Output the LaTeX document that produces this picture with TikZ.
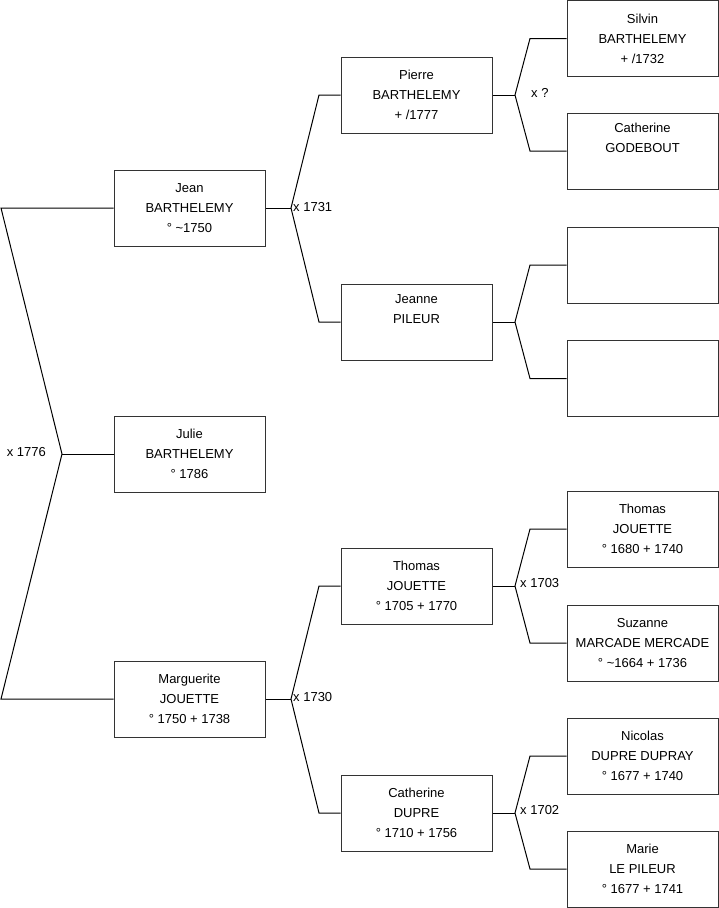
\documentclass[tikz,border=0pt]{standalone}
\usepackage{fontspec}
\setmainfont{Liberation Sans}
\begin{document}
\begin{tikzpicture}[x=1pt,y=-1pt,
  person/.style={draw=black!80, line width=1pt, minimum width=151pt, minimum height=76pt, inner sep=0pt, align=center, font=\fontsize{13}{20}\selectfont, fill=white},
  link/.style={draw=black, line width=1pt},
  mlabel/.style={inner sep=0pt, font=\fontsize{13}{15}\selectfont}]
\useasboundingbox (0,0) rectangle (719,908);
% column 1
\node[person] (jean) at (189.5,208) {Jean\\BARTHELEMY\\° \textasciitilde1750};
\node[person] (julie) at (189.5,454) {Julie\\BARTHELEMY\\° 1786};
\node[person] (marg) at (189.5,699) {Marguerite\\JOUETTE\\° 1750 + 1738};
% column 2
\node[person] (pierre) at (416.5,95) {Pierre\\BARTHELEMY\\+ /1777};
\node[person] (jeanne) at (416.5,322) {Jeanne\\PILEUR\\\strut};
\node[person] (thomas) at (416.5,586) {Thomas\\JOUETTE\\° 1705 + 1770};
\node[person] (cath) at (416.5,813) {Catherine\\DUPRE\\° 1710 + 1756};
% column 3
\node[person] (silvin) at (642.5,38.5) {Silvin\\BARTHELEMY\\+ /1732};
\node[person] (cathg) at (642.5,151) {Catherine\\GODEBOUT\\\strut};
\node[person] (e1) at (642.5,265) {};
\node[person] (e2) at (642.5,378.5) {};
\node[person] (thomasj) at (642.5,529) {Thomas\\JOUETTE\\° 1680 + 1740};
\node[person] (suz) at (642.5,643) {Suzanne\\MARCADE MERCADE\\° \textasciitilde1664 + 1736};
\node[person] (nic) at (642.5,756) {Nicolas\\DUPRE DUPRAY\\° 1677 + 1740};
\node[person] (marie) at (642.5,869) {Marie\\LE PILEUR\\° 1677 + 1741};
% coordinates
\coordinate (a1) at (1,208);
\coordinate (m1) at (62,454);
\coordinate (b1) at (1,699);
\coordinate (m2) at (291,208);
\coordinate (a2) at (319,95);
\coordinate (b2) at (319,322);
\coordinate (m3) at (291,699);
\coordinate (a3) at (319,586);
\coordinate (b3) at (319,813);
\coordinate (m4) at (515,95);
\coordinate (a4) at (530,38.5);
\coordinate (b4) at (530,151);
\coordinate (m5) at (515,322);
\coordinate (a5) at (530,265);
\coordinate (b5) at (530,378.5);
\coordinate (m6) at (515,586);
\coordinate (a6) at (530,529);
\coordinate (b6) at (530,643);
\coordinate (m7) at (515,813);
\coordinate (a7) at (530,756);
\coordinate (b7) at (530,869);
% connectors
\draw[link] (jean.west) -- (a1) -- (m1) -- (b1) -- (marg.west);
\draw[link] (m1) -- (julie.west);
\draw[link] (pierre.west) -- (a2) -- (m2) -- (b2) -- (jeanne.west);
\draw[link] (m2) -- (jean.east);
\draw[link] (thomas.west) -- (a3) -- (m3) -- (b3) -- (cath.west);
\draw[link] (m3) -- (marg.east);
\draw[link] (silvin.west) -- (a4) -- (m4) -- (b4) -- (cathg.west);
\draw[link] (m4) -- (pierre.east);
\draw[link] (e1.west) -- (a5) -- (m5) -- (b5) -- (e2.west);
\draw[link] (m5) -- (jeanne.east);
\draw[link] (thomasj.west) -- (a6) -- (m6) -- (b6) -- (suz.west);
\draw[link] (m6) -- (thomas.east);
\draw[link] (nic.west) -- (a7) -- (m7) -- (b7) -- (marie.west);
\draw[link] (m7) -- (cath.east);
% marriage labels
\node[mlabel, anchor=east] (l1) at (46,452) {x 1776};
\node[mlabel, anchor=west] (l2) at (293,207) {x 1731};
\node[mlabel, anchor=west] (l3) at (293,697) {x 1730};
\node[mlabel, anchor=west] (l4) at (531,93) {x ?};
\node[mlabel, anchor=west] (l5) at (520,583) {x 1703};
\node[mlabel, anchor=west] (l6) at (520,810) {x 1702};
\end{tikzpicture}
\end{document}
